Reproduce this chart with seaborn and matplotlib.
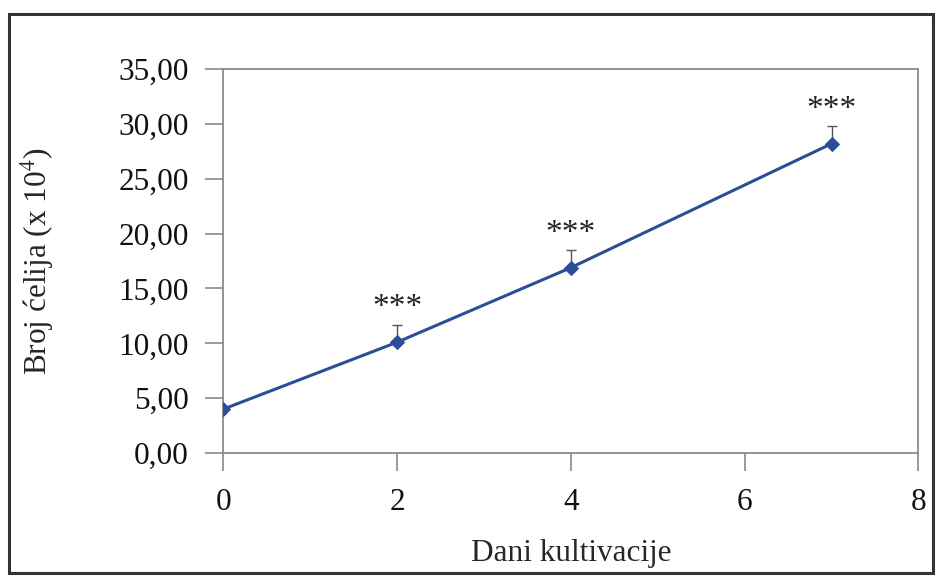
import numpy as np
import pandas as pd
import seaborn as sns
import matplotlib.pyplot as plt
from matplotlib.patches import Rectangle

# values
days = [0, 2, 4, 7]
cells = [4.0, 10.1, 16.9, 28.2]
err_up = [0.0, 1.6, 1.6, 1.6]
stars = ["", "***", "***", "***"]

df = pd.DataFrame({"day": days, "cells": cells})

sns.set_theme(style="white")
plt.rcParams["font.family"] = ["Liberation Serif", "DejaVu Serif"]
plt.rcParams["mathtext.fontset"] = "stix"

blue = "#2B4F96"
grey = "#8A8A8A"
fs = 22.5

fig = plt.figure(figsize=(9.42, 5.76), dpi=100)
ax = fig.add_axes([0.237, 0.2135, 0.738, 0.6665])

# error bars (upper only)
ax.errorbar(days, cells, yerr=[np.zeros(len(err_up)), err_up], fmt="none",
            ecolor="#555555", elinewidth=1.0, capsize=3.5, capthick=1.0, zorder=2)

sns.lineplot(data=df, x="day", y="cells", ax=ax, color=blue, linewidth=2.2,
             marker="D", markersize=7, markeredgecolor=blue, zorder=3)

for d, c, e, s in zip(days, cells, err_up, stars):
    if s:
        ax.annotate(s, (d, c + e), xytext=(0, 1), textcoords="offset points",
                    ha="center", va="bottom", fontsize=24, color="#222222")

ax.set_xlim(0, 8)
ax.set_ylim(0, 35)
ax.set_xticks([0, 2, 4, 6, 8])
ax.set_yticks(np.arange(0, 36, 5))
ax.set_yticklabels([f"{v:.2f}".replace(".", ",") for v in np.arange(0, 36, 5)])

ax.set_xlabel("Dani kultivacije", fontsize=fs, labelpad=16)
ax.set_ylabel("Broj ćelija (x 10$^4$)", fontsize=fs, labelpad=45)

ax.tick_params(axis="both", which="major", labelsize=fs, direction="out",
               length=13, width=1.2, color=grey, colors="#111111")
ax.tick_params(axis="x", pad=12)
ax.tick_params(axis="y", pad=12)
ax.tick_params(axis="both", color=grey)
ax.xaxis.set_ticks_position("bottom")
ax.yaxis.set_ticks_position("left")

for sp in ax.spines.values():
    sp.set_visible(True)
    sp.set_color(grey)
    sp.set_linewidth(1.3)

# outer frame round the whole chart
fig.patches.append(Rectangle((0.01, 0.006), 0.98, 0.97, transform=fig.transFigure,
                             fill=False, edgecolor="#333333", linewidth=2.2))

fig.savefig("out.png", dpi=100)
